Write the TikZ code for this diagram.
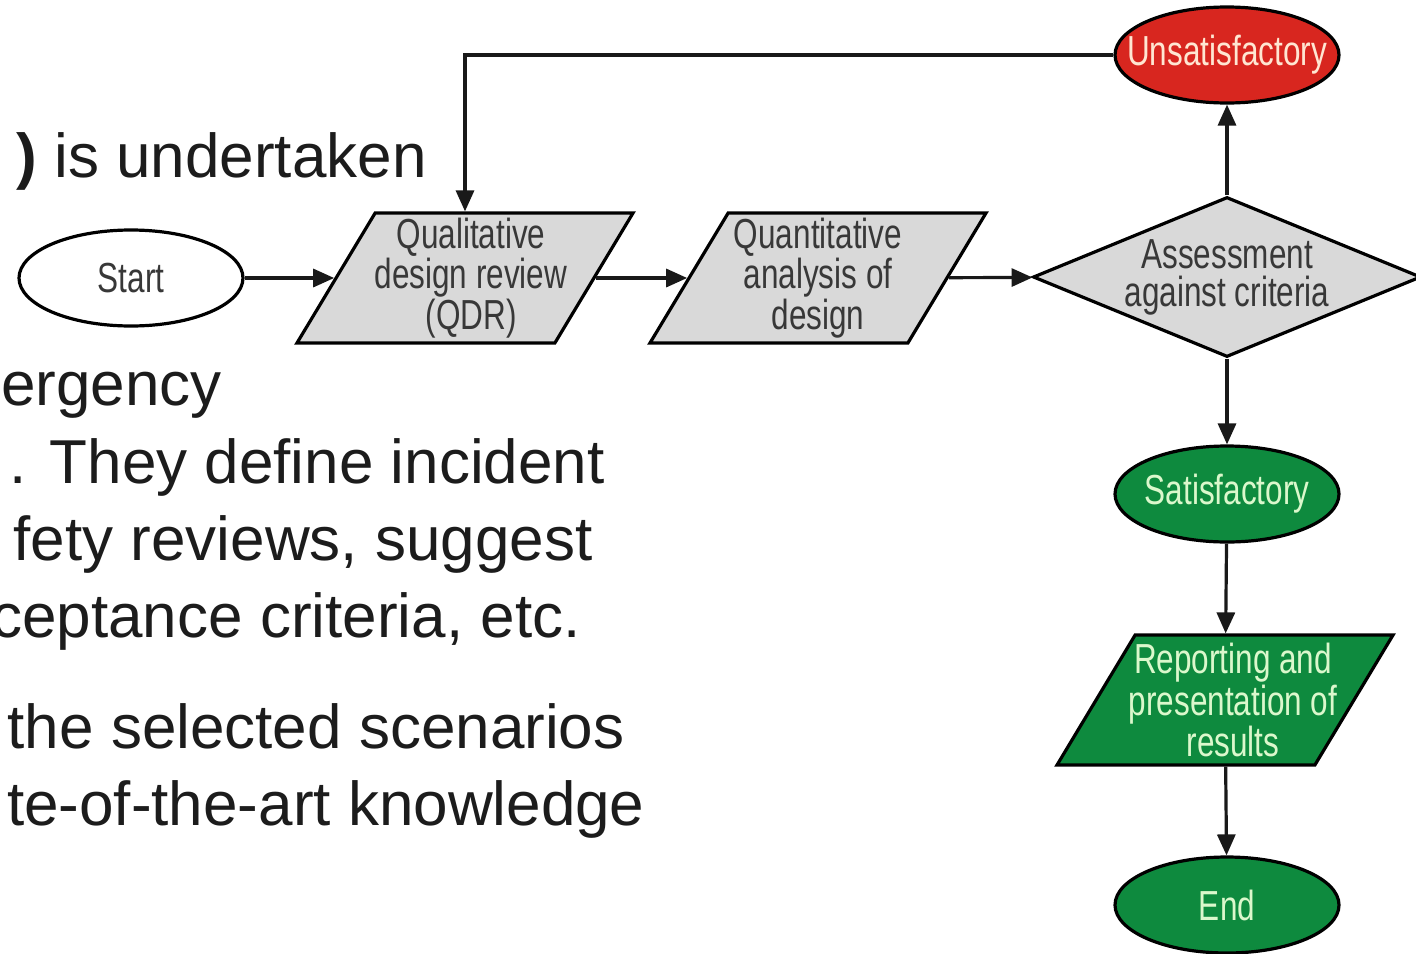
\documentclass[tikz,border=0pt]{standalone}
\usepackage{fontspec}
\setmainfont{Liberation Sans}
\newfontfamily\narrowfont{Liberation Sans}[FakeStretch=0.75]
\usetikzlibrary{shapes.geometric,arrows.meta}

\definecolor{inkgray}{HTML}{383838}
\definecolor{bodyink}{HTML}{1C1C1C}
\definecolor{boxgray}{HTML}{D9D9D9}
\definecolor{failred}{HTML}{D8261F}
\definecolor{passgreen}{HTML}{0E8A3E}
\definecolor{palered}{HTML}{FFE6D2}
\definecolor{palegreen}{HTML}{DBF8CC}

\newcommand{\nolabel}{\phantom{\rule{1pt}{1pt}}}

\tikzset{
  every node/.style={inner sep=0pt},
  body/.style={text=bodyink, font=\fontsize{31pt}{37pt}\selectfont},
  lbl/.style={font=\narrowfont\fontsize{21pt}{19pt}\selectfont, align=center},
  outline/.style={draw=black, line width=1.6pt},
  oval/.style={outline, shape=ellipse, minimum width=112pt, minimum height=48pt},
  iobox/.style={outline, shape=trapezium,
    trapezium left angle=66.5, trapezium right angle=113.5,
    trapezium stretches=true,
    minimum width=168pt, minimum height=65pt},
  decision/.style={outline, shape=diamond, fill=boxgray,
    minimum width=194pt, minimum height=80pt, aspect=2.4},
  flow/.style={line width=1.6pt, draw=black!90,
    -{Triangle[length=10.5pt,width=9pt]}},
}

\begin{document}
\begin{tikzpicture}[x=0.5pt, y=-0.5pt]
  \useasboundingbox[fill=white] (0,0) rectangle (1416,953);

  % slide text behind the chart
  \node[body, anchor=base east] (t1) at (427,177) {{\bfseries )} is undertaken};
  \node[body, anchor=base west] (t2) at (1,405) {ergency};
  \node[body, anchor=base east] (t3) at (605,483) {. They define incident};
  \node[body, anchor=base east] (t4) at (593,560) {fety reviews, suggest};
  \node[body, anchor=base east] (t5) at (581,637) {ceptance criteria, etc.};
  \node[body, anchor=base east] (t6) at (625,748) {the selected scenarios};
  \node[body, anchor=base east] (t7) at (645,825) {te-of-the-art knowledge};

  % flowchart shapes (labels are set separately so they may overhang)
  \node[oval, fill=white] (start) at (131,278) {\nolabel};
  \node[iobox, fill=boxgray] (qdr) at (465,278) {\nolabel};
  \node[iobox, fill=boxgray] (quant) at (818,278) {\nolabel};
  \node[decision] (assess) at (1227,277) {};
  \node[oval, fill=failred] (unsat) at (1227,55) {\nolabel};
  \node[oval, fill=passgreen] (sat) at (1227,494) {\nolabel};
  \node[iobox, fill=passgreen] (report) at (1225,700) {\nolabel};
  \node[oval, fill=passgreen] (finish) at (1227,905) {\nolabel};

  % flowchart labels
  \node[lbl, text=inkgray] (start-l) at (start) {Start};
  \node[lbl, text=inkgray] (qdr-l) at ([xshift=3pt]qdr) {Qualitative\\design review\\(QDR)};
  \node[lbl, text=inkgray] (quant-l) at (quant) {Quantitative\\analysis of\\design};
  \node[lbl, text=inkgray] (assess-l) at (assess) {Assessment\\against criteria};
  \node[lbl, text=palered] (unsat-l) at (unsat) {Unsatisfactory};
  \node[lbl, text=palegreen] (sat-l) at (sat) {Satisfactory};
  \node[lbl, text=palegreen] (report-l) at ([xshift=4pt]report) {Reporting and\\presentation of\\results};
  \node[lbl, text=palegreen] (finish-l) at (finish) {End};

  % connectors
  \draw[flow] (start) -- (qdr);
  \draw[flow] (qdr) -- (quant);
  \draw[flow] (quant) -- (assess);
  \draw[flow] (assess) -- (unsat);
  \draw[flow] (unsat.west) -| (qdr.north);
  \draw[flow] (assess) -- (sat);
  \draw[flow] (sat) -- (report);
  \draw[flow] (report) -- (finish);
\end{tikzpicture}
\end{document}
